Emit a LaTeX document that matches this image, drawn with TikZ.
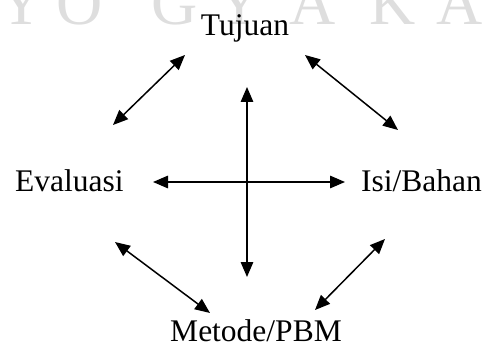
\documentclass[tikz,border=0pt]{standalone}
\usepackage{fontspec}
\setmainfont{Liberation Serif}
\usetikzlibrary{arrows.meta}
\begin{document}
\begin{tikzpicture}[x=1pt,y=-1pt,
  lbl/.style={inner sep=0pt, font=\fontsize{31.5}{36}\selectfont},
  wm/.style={inner sep=0pt, text=black!13, font=\fontsize{64}{70}\selectfont, anchor=base},
  link/.style={line width=1.5pt, {Triangle[length=15pt,width=12.5pt]}-{Triangle[length=15pt,width=12.5pt]}}]
\useasboundingbox (0,0) rectangle (484,347);
\begin{scope}
\clip (0,0) rectangle (484,347);
\node[wm] (w1) at (22,25) {Y};
\node[wm] (w2) at (80,25) {O};
\node[wm] (w3) at (175,25) {G};
\node[wm] (w4) at (240,25) {Y};
\node[wm] (w5) at (313,25) {A};
\node[wm] (w6) at (393,25) {K};
\node[wm] (w7) at (460,25) {A};
\end{scope}
\node[lbl, anchor=base] (tuj) at (245,36) {Tujuan};
\node[lbl, anchor=base west] (eva) at (15,192) {Evaluasi};
\node[lbl, anchor=base east] (isi) at (482,192) {Isi/Bahan};
\node[lbl, anchor=base] (met) at (256,341) {Metode/PBM};
% connector end points
\coordinate (vt) at (247,87);
\coordinate (vb) at (247,277);
\coordinate (hl) at (153,182);
\coordinate (hr) at (345,182);
\coordinate (tl1) at (185,55);
\coordinate (tl2) at (113,125);
\coordinate (tr1) at (305,55);
\coordinate (tr2) at (398,130);
\coordinate (bl1) at (115,242);
\coordinate (bl2) at (210,313);
\coordinate (br1) at (385,239);
\coordinate (br2) at (315,310);
\draw[link] (vt) -- (vb);
\draw[link] (hl) -- (hr);
\draw[link] (tl1) -- (tl2);
\draw[link] (tr1) -- (tr2);
\draw[link] (bl1) -- (bl2);
\draw[link] (br1) -- (br2);
\end{tikzpicture}
\end{document}
